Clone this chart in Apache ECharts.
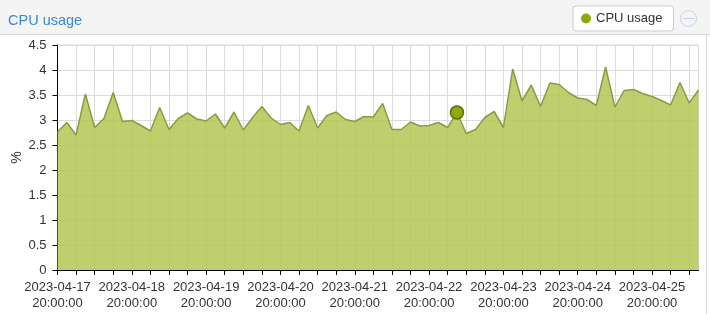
<!DOCTYPE html>
<html>
<head>
<meta charset="utf-8">
<script src="https://cdn.jsdelivr.net/npm/echarts@6/dist/echarts.min.js"></script>
<style>
html,body{margin:0;padding:0;background:#fff;}
#c{width:710px;height:314px;}
</style>
</head>
<body>
<div id="c"></div>
<script>
// ---- data ----
const SERIES_NAME = 'CPU usage';
const START_UTC = Date.UTC(2023, 3, 17, 20, 0, 0); // first sample
const STEP_HOURS = 3;
const cpuValues = [
  2.76, 2.95, 2.70, 3.52, 2.85, 3.03, 3.55, 2.97, 2.99, 2.89,
  2.78, 3.25, 2.81, 3.03, 3.14, 3.02, 2.98, 3.12, 2.84, 3.16,
  2.80, 3.05, 3.27, 3.04, 2.91, 2.95, 2.78, 3.29, 2.84, 3.09,
  3.16, 3.01, 2.97, 3.07, 3.06, 3.33, 2.81, 2.81, 2.96, 2.88,
  2.89, 2.95, 2.85, 3.15, 2.73, 2.81, 3.05, 3.17, 2.85, 4.02,
  3.38, 3.70, 3.27, 3.74, 3.71, 3.55, 3.44, 3.41, 3.29, 4.06,
  3.26, 3.59, 3.61, 3.53, 3.47, 3.39, 3.30, 3.75, 3.34, 3.60
];
const HIGHLIGHT_INDEX = 43;
const yTicks = [0, 0.5, 1, 1.5, 2, 2.5, 3, 3.5, 4, 4.5];

function pad(n){return (n<10?'0':'')+n;}
const categories = cpuValues.map((_, i) => {
  const d = new Date(START_UTC + i * STEP_HOURS * 3600 * 1000);
  return d.getUTCFullYear() + '-' + pad(d.getUTCMonth()+1) + '-' + pad(d.getUTCDate()) +
    '\n' + pad(d.getUTCHours()) + ':' + pad(d.getUTCMinutes()) + ':' + pad(d.getUTCSeconds());
});

const seriesData = cpuValues.map((v, i) => i === HIGHLIGHT_INDEX
  ? { value: v, symbol: 'circle', symbolSize: 13,
      itemStyle: { color: '#8fa80c', borderColor: '#5c6f05', borderWidth: 1.5 } }
  : { value: v, symbol: 'none' });

const FONT = '"Liberation Sans", Arial, sans-serif';
const chart = echarts.init(document.getElementById('c'), null, { renderer: 'canvas' });
chart.setOption({
  animation: false,
  textStyle: { fontFamily: FONT },
  graphic: [
    { type: 'rect', shape: { x: 0, y: 0, width: 710, height: 34 }, style: { fill: '#f4f4f4' }, z: -10 },
    { type: 'line', shape: { x1: 0, y1: 34.5, x2: 710, y2: 34.5 }, style: { stroke: '#d8d8d8', lineWidth: 1 }, z: -9 },
    { type: 'line', shape: { x1: 706.5, y1: 34, x2: 706.5, y2: 314 }, style: { stroke: '#d8d8d8', lineWidth: 1 }, z: -9 },
    { type: 'circle', shape: { cx: 688.5, cy: 18.5, r: 8 }, style: { fill: 'rgba(0,0,0,0)', stroke: '#c4d4e8', lineWidth: 1 }, z: 10 },
    { type: 'line', shape: { x1: 683, y1: 18.5, x2: 694, y2: 18.5 }, style: { stroke: '#c4d4e8', lineWidth: 1 }, z: 11 }
  ],
  title: {
    text: SERIES_NAME,
    left: 3, top: 8,
    textStyle: { color: '#3a89d6', fontSize: 14.5, fontWeight: 'normal', fontFamily: FONT }
  },
  legend: {
    left: 573, top: 6,
    data: [{ name: SERIES_NAME, icon: 'circle', itemStyle: { color: '#8fa80c', borderWidth: 0 } }],
    itemWidth: 10, itemHeight: 10,
    padding: [6, 11, 6, 8],
    backgroundColor: '#fff',
    borderColor: '#cccccc', borderWidth: 1, borderRadius: 3,
    textStyle: { color: '#333', fontSize: 13, fontFamily: FONT }
  },
  grid: {
    left: 57.5, right: 11.5, top: 45, bottom: 44,
    outerBoundsMode: 'none',
    containLabel: false,
    show: true, borderColor: '#dcdcdc', borderWidth: 1
  },
  xAxis: {
    type: 'category',
    data: categories,
    boundaryGap: false,
    axisLine: { lineStyle: { color: '#000', width: 1 } },
    axisTick: { interval: 1, length: 5, lineStyle: { color: '#000' } },
    axisLabel: { interval: 7, color: '#333', fontSize: 13, lineHeight: 16, margin: 9, fontFamily: FONT },
    splitLine: { show: true, interval: 1, lineStyle: { color: '#dcdcdc', width: 1 } }
  },
  yAxis: {
    type: 'value',
    min: yTicks[0], max: yTicks[yTicks.length - 1], interval: 0.5,
    name: '%',
    nameLocation: 'middle',
    nameRotate: 90,
    nameGap: 33,
    nameMoveOverlap: false,
    nameTextStyle: { color: '#333', fontSize: 14, fontFamily: FONT },
    axisLine: { show: true, lineStyle: { color: '#000', width: 1 } },
    axisTick: { show: true, length: 5, lineStyle: { color: '#000' } },
    axisLabel: { color: '#333', fontSize: 13, margin: 11, fontFamily: FONT },
    splitLine: { show: true, lineStyle: { color: '#dcdcdc', width: 1 } }
  },
  series: [{
    name: SERIES_NAME,
    type: 'line',
    data: seriesData,
    symbol: 'none',
    showSymbol: true,
    lineStyle: { color: '#8a9b45', width: 1.5 },
    itemStyle: { color: '#8fa80c' },
    areaStyle: { color: 'rgba(180,199,84,0.85)', opacity: 1 },
    emphasis: { disabled: true }
  }]
});
</script>
</body>
</html>
